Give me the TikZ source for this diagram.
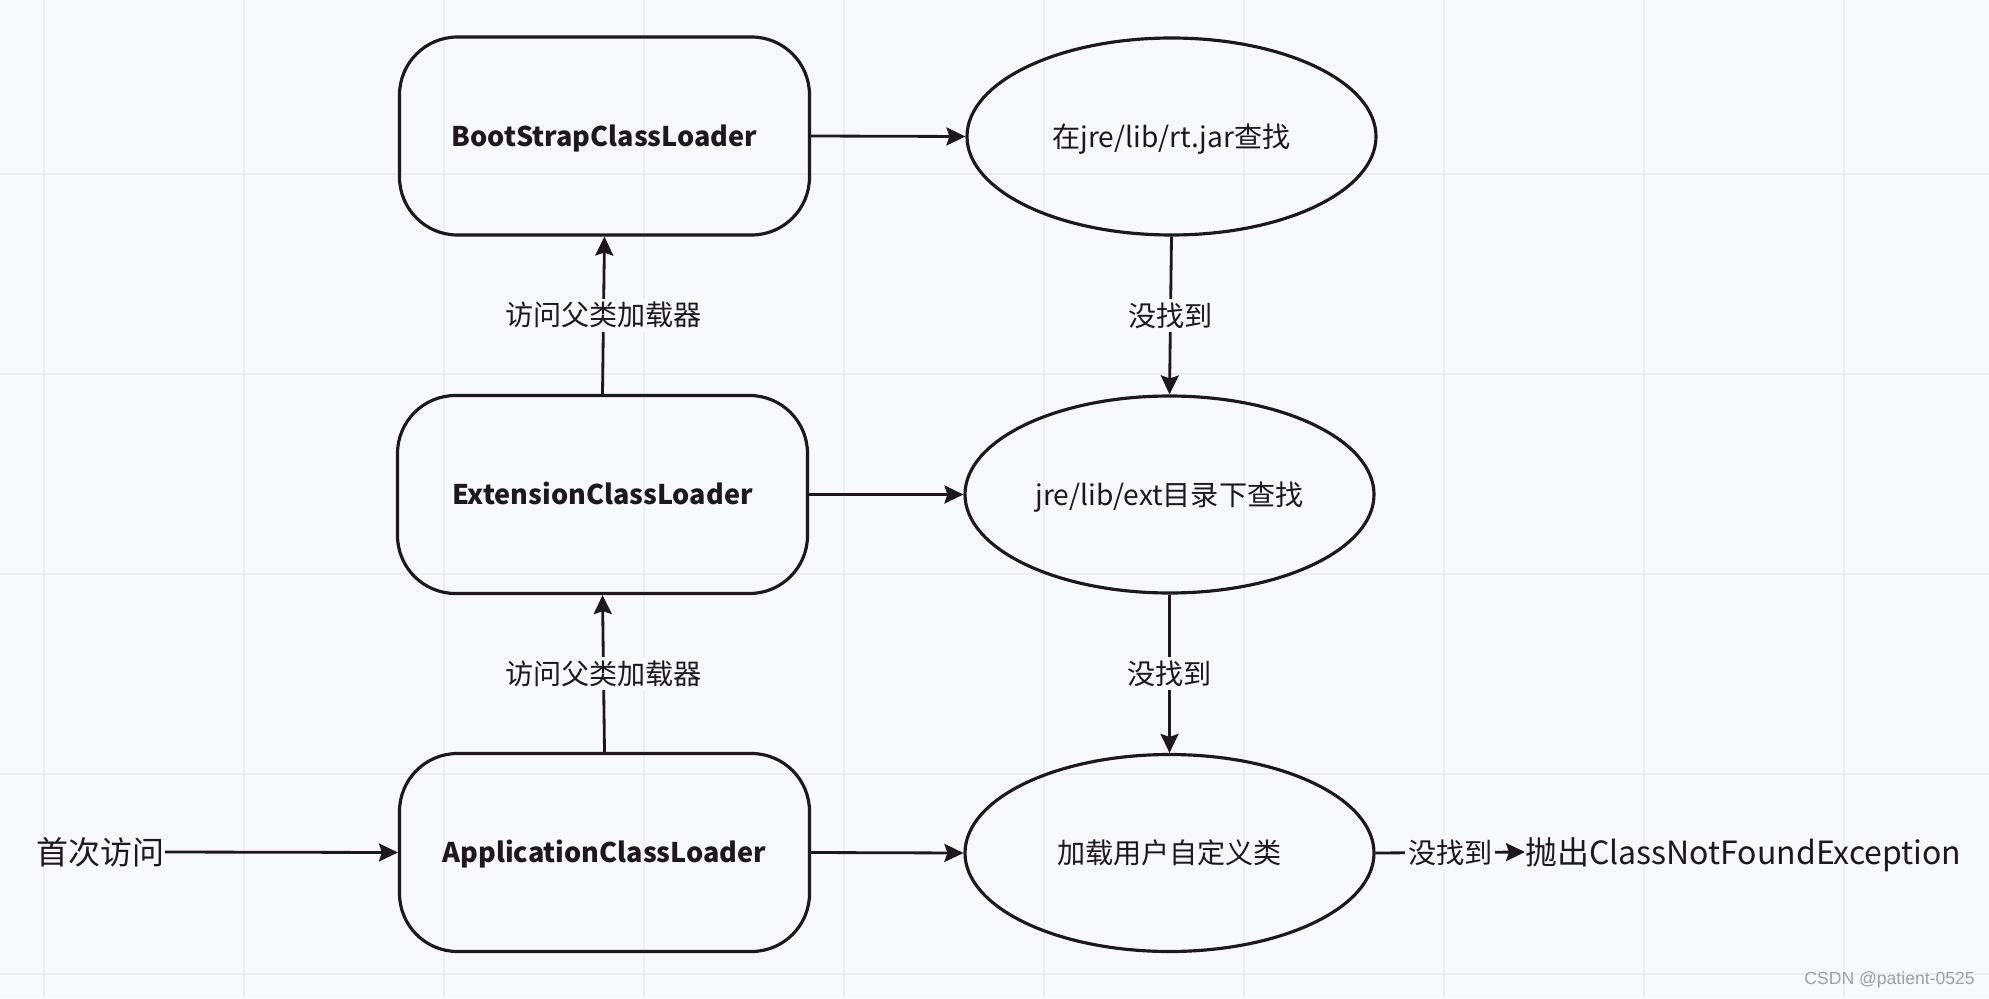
\documentclass[tikz,border=0pt]{standalone}
\usepackage{fontspec}
\setmainfont{Noto Sans CJK SC}
\newfontfamily\markfont{Liberation Sans}
\usetikzlibrary{arrows.meta,shapes.geometric}
\definecolor{PaperBg}{HTML}{F8F9FB}
\definecolor{GridGray}{HTML}{ECEEF1}
\definecolor{NiceInk}{HTML}{1E171B}
\definecolor{MarkGray}{HTML}{A0A0A0}

\begin{document}
\begin{tikzpicture}[
    loader/.style={draw=NiceInk, line width=1.8pt, rounded corners=1.16cm,
      minimum width=8.2cm, minimum height=3.96cm, text=NiceInk,
      text height=13.6pt, text depth=1.9pt,
      font=\fontsize{15.4}{18}\selectfont\bfseries},
    lookup/.style={draw=NiceInk, line width=1.8pt, ellipse, inner sep=0pt,
      minimum width=8.18cm, minimum height=3.94cm, text=NiceInk,
      text height=14.1pt, text depth=1.9pt,
      font=\fontsize{16}{18}\selectfont},
    flow/.style={draw=NiceInk, line width=1.6pt,
      -{Stealth[length=0.38cm, width=0.36cm, inset=0.06cm]}},
    tag/.style={fill=PaperBg, text=NiceInk, inner sep=1.5pt,
      text height=14.1pt, text depth=1.9pt,
      font=\fontsize{16}{18}\selectfont},
    endtext/.style={inner sep=0pt, text=NiceInk,
      text height=16pt, text depth=2.2pt,
      font=\fontsize{18.2}{20}\selectfont}
  ]
  % Paper and grid
  \useasboundingbox (0,0) rectangle (39.78,19.96);
  \fill[PaperBg] (0,0) rectangle (39.78,19.96);
  \draw[GridGray, line width=1.1pt, shift={(0.88,0.48)}]
    (-0.88,-0.48) grid[step=4] (38.9,19.48);
  % Loaders
  \node[loader] (boot) at (12.09,17.24) {BootStrapClassLoader};
  \node[loader] (ext) at (12.05,10.07) {ExtensionClassLoader};
  \node[loader] (app) at (12.09,2.91) {ApplicationClassLoader};
  % Lookups
  \node[lookup] (rtjar) at (23.43,17.23) {在jre/lib/rt.jar查找};
  \node[lookup] (extdir) at (23.39,10.07) {jre/lib/ext目录下查找};
  \node[lookup] (userdef) at (23.39,2.90) {加载用户自定义类};
  % Ends
  \node[endtext, anchor=east] (first) at (3.3,2.92) {首次访问};
  \node[endtext, anchor=west] (thrown) at (30.5,2.92)
    {抛出ClassNotFoundException};
  % Delegation
  \draw[flow] (first.east) -- (app.west);
  \draw[flow] (app.north) -- node[tag] {访问父类加载器} (ext.south);
  \draw[flow] (ext.north) -- node[tag] {访问父类加载器} (boot.south);
  % Search
  \draw[flow] (boot.east) -- (rtjar.west);
  \draw[flow] (ext.east) -- (extdir.west);
  \draw[flow] (app.east) -- (userdef.west);
  \draw[flow] (rtjar.south) -- node[tag] {没找到} (extdir.north);
  \draw[flow] (extdir.south) -- node[tag] {没找到} (userdef.north);
  \draw[flow] (userdef.east) -- node[tag] {没找到} (thrown.west);
  % watermark
  \node[anchor=east, MarkGray, inner sep=0pt,
    font=\markfont\fontsize{10}{12}\selectfont] (mark) at (39.5,0.36)
    {CSDN @patient-0525};
\end{tikzpicture}
\end{document}
